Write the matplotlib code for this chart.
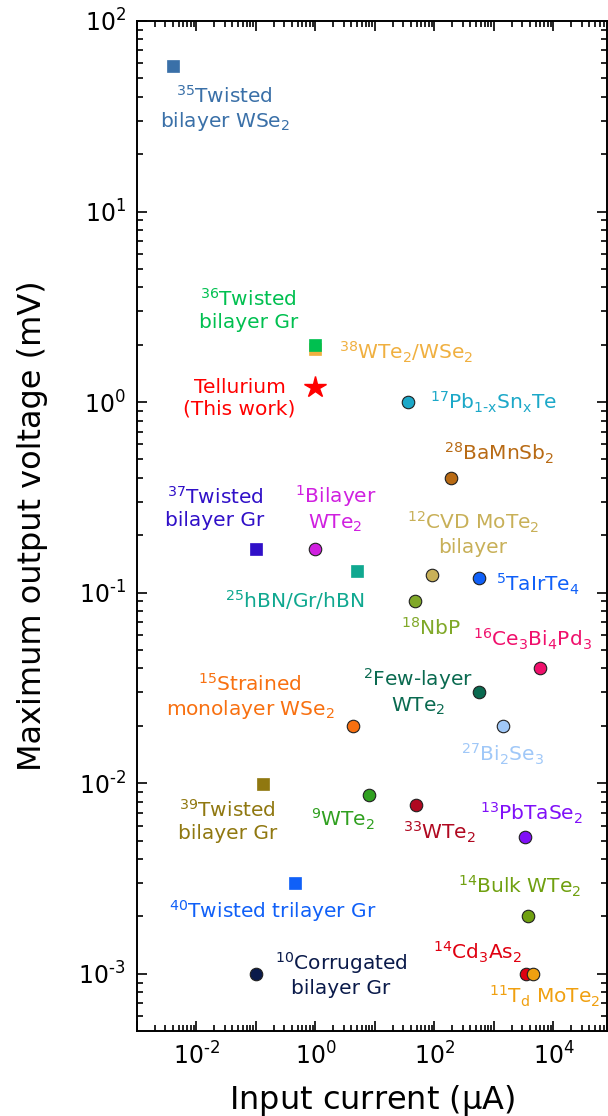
import math
import matplotlib
matplotlib.use("Agg")
import matplotlib.pyplot as plt
from matplotlib.ticker import LogLocator, FuncFormatter, NullFormatter

plt.rcParams['font.family'] = ['DejaVu Sans']
plt.rcParams['mathtext.fontset'] = 'dejavusans'

# data: (input current uA, max output voltage mV)
labels = [
    r'$^{35}$Twisted' '\n' r'bilayer WSe$_2$',
    r'$^{38}$WTe$_2$/WSe$_2$',
    r'$^{36}$Twisted' '\n' r'bilayer Gr',
    'Tellurium\n(This work)',
    r'$^{17}$Pb$_{\mathrm{1‐x}}$Sn$_{\mathrm{x}}$Te',
    r'$^{28}$BaMnSb$_2$',
    r'$^{37}$Twisted' '\n' r'bilayer Gr',
    r'$^{1}$Bilayer' '\n' r'WTe$_2$',
    r'$^{25}$hBN/Gr/hBN',
    r'$^{12}$CVD MoTe$_2$' '\n' 'bilayer',
    r'$^{5}$TaIrTe$_4$',
    r'$^{18}$NbP',
    r'$^{16}$Ce$_3$Bi$_4$Pd$_3$',
    r'$^{2}$Few-layer' '\n' r'WTe$_2$',
    r'$^{15}$Strained' '\n' r'monolayer WSe$_2$',
    r'$^{27}$Bi$_2$Se$_3$',
    r'$^{39}$Twisted' '\n' r'bilayer Gr',
    r'$^{9}$WTe$_2$',
    r'$^{33}$WTe$_2$',
    r'$^{13}$PbTaSe$_2$',
    r'$^{40}$Twisted trilayer Gr',
    r'$^{14}$Bulk WTe$_2$',
    r'$^{14}$Cd$_3$As$_2$',
    r'$^{11}$T$_{\mathrm{d}}$ MoTe$_2$',
    r'$^{10}$Corrugated' '\n' 'bilayer Gr',
]
current = [0.004, 1.0, 1.0, 1.0, 36, 190, 0.1, 1.0, 5.0, 90, 560, 47, 5900,
           560, 4.3, 1400, 0.13, 7.8, 49, 3300, 0.45, 3700, 3500, 4600, 0.1]
voltage = [58, 1.9, 2.0, 1.2, 1.0, 0.4, 0.17, 0.17, 0.13, 0.124, 0.12, 0.09, 0.04,
           0.03, 0.02, 0.02, 0.0099, 0.0087, 0.0077, 0.0052, 0.003, 0.002, 0.001, 0.001, 0.001]
markers = ['s', 's', 's', '*', 'o', 'o', 's', 'o', 's', 'o', 'o', 'o', 'o',
           'o', 'o', 'o', 's', 'o', 'o', 'o', 's', 'o', 'o', 'o', 'o']
colors = ['#3a70a8', '#f0b040', '#00c050', '#ff0000', '#1ca8c8', '#b86a14',
          '#3010c8', '#d020e0', '#10a890', '#c8b058', '#1060f8', '#80a828',
          '#f0106c', '#0a6a50', '#f87010', '#a0c8f8', '#907810', '#30a020',
          '#b00820', '#8010f8', '#1060f8', '#70a010', '#e00010', '#f0a010',
          '#0a1a4a']
# label offsets from the marker, in pixels
offsets = [(52, -43), (91, -3), (-67, 35), (-76, -11), (85, 0), (48, 25),
           (-41, 41), (20, 40), (-62, -29), (41, 41), (59, -7), (16, -26),
           (-7, 29), (-61, 1), (-103, 29), (0, -29), (-35, -37), (-26, -25),
           (23, -28), (7, 24), (-22, -28), (-8, 30), (-49, 21), (11, -23),
           (85, 0)]

fig = plt.figure(figsize=(6.08, 11.16), dpi=100)
ax = fig.add_axes([0.2253, 0.0762, 0.7731, 0.905])

for lab, xv, yv, m, c, off in zip(labels, current, voltage, markers, colors, offsets):
    if m == 'o':
        ax.plot(xv, yv, 'o', ms=9, mfc=c, mec='#202020', mew=0.8, zorder=3)
    elif m == 's':
        ax.plot(xv, yv, 's', ms=8, mfc=c, mec=c, mew=0.5, zorder=3)
    else:
        ax.plot(xv, yv, '*', ms=16, mfc=c, mec=c, zorder=3)
    ax.annotate(lab, (xv, yv), xytext=off, textcoords='offset pixels',
                ha='center', va='center', multialignment='center',
                color=c, fontsize=14.5, linespacing=1.2)

ax.set_xscale('log')
ax.set_yscale('log')
ax.set_xlim(1e-3, 10 ** 4.9)
ax.set_ylim(10 ** -3.3, 100)

def fmt(v, pos, even=False):
    e = int(round(math.log10(v)))
    if even and e % 2:
        return ''
    s = str(e).replace('-', '‐')
    return r'10$^{%s}$' % s

for axis, even in ((ax.xaxis, True), (ax.yaxis, False)):
    axis.set_major_locator(LogLocator(base=10, numticks=20))
    axis.set_minor_locator(LogLocator(base=10, subs=range(2, 10), numticks=20))
    axis.set_major_formatter(FuncFormatter(lambda v, p, ev=even: fmt(v, p, ev)))
    axis.set_minor_formatter(NullFormatter())

ax.tick_params(which='both', direction='in', top=True, right=True, width=1.2)
ax.tick_params(which='major', length=7, labelsize=17, pad=8)
ax.tick_params(which='minor', length=4)
for sp in ax.spines.values():
    sp.set_linewidth(1.4)

ax.set_xlabel(r'Input current ($\mathrm{\mu}$A)', fontsize=23, labelpad=10)
ax.set_ylabel('Maximum output voltage (mV)', fontsize=23, labelpad=22)

fig.savefig('out.png', dpi=100)
